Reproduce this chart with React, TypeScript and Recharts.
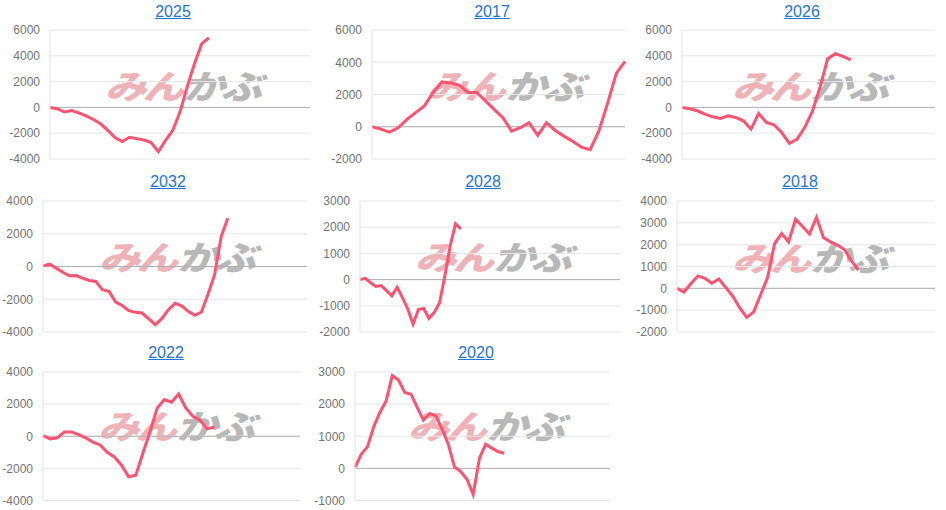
import { LineChart, Line, XAxis, YAxis, CartesianGrid, ReferenceLine } from "recharts"

// series values (one point per step)
const v2025 = [0, -100, -360, -250, -430, -660, -940, -1270, -1780, -2340, -2650, -2320, -2420, -2520, -2730, -3440, -2550, -1780, -360, 1600, 3390, 4920, 5400]
const v2017 = [0, -150, -330, -60, 460, 875, 1290, 2125, 2780, 2720, 2580, 2125, 2125, 1600, 1080, 560, -270, -60, 250, -540, 250, -230, -580, -900, -1270, -1420, -270, 1450, 3310, 4060]
const v2026 = [0, -100, -260, -520, -730, -860, -650, -780, -1040, -1690, -470, -1170, -1350, -1950, -2780, -2470, -1560, -310, 1560, 3770, 4160, 3950, 3690]
const v2032 = [40, 140, -100, -350, -570, -550, -710, -850, -910, -1420, -1520, -2170, -2380, -2700, -2800, -2840, -3190, -3550, -3190, -2640, -2250, -2400, -2740, -2980, -2780, -1700, -500, 1830, 2940]
const v2028 = [0, 50, -120, -260, -230, -420, -620, -290, -690, -1120, -1700, -1140, -1100, -1480, -1250, -880, 150, 1300, 2130, 1930]
const v2018 = [0, -170, 220, 570, 460, 230, 430, 30, -360, -900, -1330, -1080, -280, 500, 2050, 2510, 2130, 3170, 2830, 2490, 3250, 2330, 2130, 1980, 1780, 1270, 840]
const v2022 = [40, -170, -100, 270, 270, 100, -100, -370, -540, -1000, -1290, -1800, -2530, -2430, -1040, 300, 1760, 2280, 2120, 2630, 1760, 1240, 1000, 460, 580]
const v2020 = [40, 440, 670, 1290, 1740, 2100, 2890, 2750, 2360, 2310, 1900, 1500, 1710, 1640, 1220, 750, 40, -100, -340, -810, 310, 750, 630, 520, 470]

// y tick labels
const ticksA = [-4000, -2000, 0, 2000, 4000, 6000]
const ticksB = [-2000, 0, 2000, 4000, 6000]
const ticksC = [-4000, -2000, 0, 2000, 4000]
const ticksD = [-2000, -1000, 0, 1000, 2000, 3000]
const ticksE = [-2000, -1000, 0, 1000, 2000, 3000, 4000]
const ticksF = [-1000, 0, 1000, 2000, 3000]

const codes = ["2025", "2017", "2026", "2032", "2028", "2018", "2022", "2020"]
const series = [v2025, v2017, v2026, v2032, v2028, v2018, v2022, v2020]
const tickSets = [ticksA, ticksB, ticksA, ticksC, ticksD, ticksE, ticksC, ticksF]
const xMaxes = [36, 29, 33, 40, 49, 37, 36, 41]

// layout of each small chart: plot box, title centre, watermark corner
const layout = [
  { x: 50, y: 29.5, w: 260, h: 129, tx: 173, ty: 12, lx: 110, ly: 72 },
  { x: 372, y: 29.5, w: 253, h: 129, tx: 492, ty: 12, lx: 432, ly: 72 },
  { x: 682, y: 29.5, w: 253, h: 129, tx: 802, ty: 12, lx: 737, ly: 72 },
  { x: 43, y: 201, w: 264, h: 131, tx: 168, ty: 182, lx: 104, ly: 243 },
  { x: 360, y: 201, w: 260, h: 131, tx: 483, ty: 182, lx: 420, ly: 243 },
  { x: 677, y: 201, w: 258, h: 131, tx: 800, ty: 182, lx: 737, ly: 244 },
  { x: 43, y: 372, w: 257, h: 128.5, tx: 166, ty: 353, lx: 103, ly: 412 },
  { x: 355, y: 372, w: 255, h: 128.5, tx: 476, ty: 353, lx: 413, ly: 412 },
]

const FONT = '"Liberation Sans", Arial, sans-serif'
const LINE = "#fd5371"
const AXIS_W = 50

// watermark, drawn behind the chart
function Logo({ x, y }: { x: number; y: number }) {
  return (
    <div style={{ position: "absolute", left: x - 4, top: y - 8, width: 180, height: 46, pointerEvents: "none" }}>
      <svg width={180} height={46} style={{ overflow: "visible" }}>
        <g transform="translate(10,0) scale(1.18,0.95) skewX(-14)">
          <text x={0} y={37} fontSize={35} fontWeight={900} fontFamily='"Noto Sans CJK JP"' fill="#efb2b6" letterSpacing={-3}>
            みん
          </text>
          <text x={66} y={37} fontSize={35} fontWeight={900} fontFamily='"Noto Sans CJK JP"' fill="#b8b8b8" letterSpacing={-3}>
            かぶ
          </text>
        </g>
      </svg>
    </div>
  )
}

function Panel({ idx }: { idx: number }) {
  const box = layout[idx]
  const ticks = tickSets[idx]
  const data = series[idx].map((y, i) => ({ i, y }))
  return (
    <>
      <div
        style={{
          position: "absolute",
          left: box.tx - 50,
          top: box.ty - 10,
          width: 100,
          textAlign: "center",
          fontFamily: FONT,
          fontSize: 16,
          lineHeight: "20px",
          color: "#1f74d6",
          textDecoration: "underline",
        }}
      >
        {codes[idx]}
      </div>
      <Logo x={box.lx} y={box.ly} />
      <div style={{ position: "absolute", left: box.x - AXIS_W, top: box.y - 10 }}>
        <LineChart
          width={box.w + AXIS_W + 6}
          height={box.h + 20}
          data={data}
          margin={{ top: 10, right: 6, bottom: 10, left: 0 }}
        >
          <CartesianGrid vertical={false} stroke="#e6e6e6" />
          <XAxis dataKey="i" type="number" domain={[0, xMaxes[idx]]} hide />
          <YAxis
            type="number"
            width={AXIS_W}
            domain={[ticks[0], ticks[ticks.length - 1]]}
            ticks={ticks}
            interval={0}
            tickLine={false}
            tickSize={0}
            tickMargin={10}
            axisLine={{ stroke: "#e3e3e3" }}
            tick={{ fill: "#737373", fontSize: 12, fontFamily: FONT }}
          />
          <ReferenceLine y={0} stroke="#b0b0b0" />
          <Line
            type="linear"
            dataKey="y"
            stroke={LINE}
            strokeWidth={3}
            dot={false}
            activeDot={false}
            isAnimationActive={false}
          />
        </LineChart>
      </div>
    </>
  )
}

export default function App() {
  return (
    <div style={{ position: "absolute", left: 0, top: 0, width: 946, height: 510, background: "#fff" }}>
      {codes.map((c, i) => (
        <Panel key={c} idx={i} />
      ))}
    </div>
  )
}
